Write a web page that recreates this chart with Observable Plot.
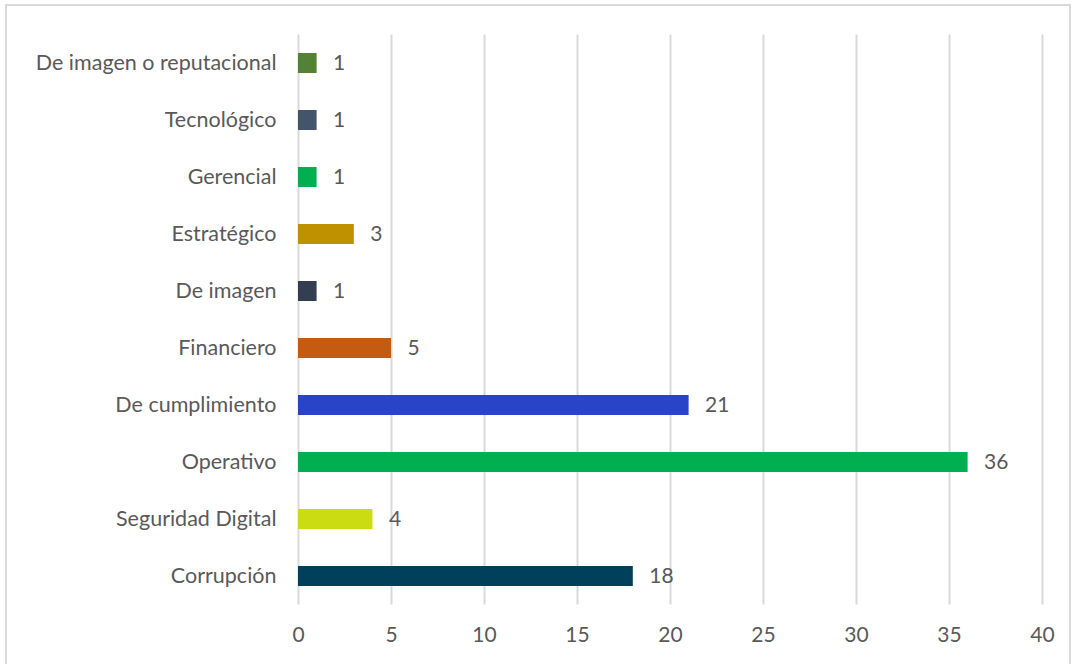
<!DOCTYPE html>
<html>
<head>
<meta charset="utf-8">
<script src="https://cdn.jsdelivr.net/npm/d3@7"></script>
<script src="https://cdn.jsdelivr.net/npm/@observablehq/plot@0.6"></script>
<style>
  html, body { margin: 0; padding: 0; background: #fff; }
  #wrap { position: relative; width: 1075px; height: 664px; overflow: hidden; }
  #frame { position: absolute; left: 5px; top: 4px; width: 1066px; height: 700px; border: 2px solid #D9D9D9; box-sizing: border-box; pointer-events: none; }
  svg { font-family: Lato, "Open Sans", sans-serif; }
</style>
</head>
<body>
<div id="wrap"><div id="frame"></div></div>
<script>
const categories = ["De imagen o reputacional","Tecnológico","Gerencial","Estratégico","De imagen","Financiero","De cumplimiento","Operativo","Seguridad Digital","Corrupción"];
const values = [1, 1, 1, 3, 1, 5, 21, 36, 4, 18];
const colors = ["#548235","#44546A","#00B050","#BF9000","#333F50","#C55A11","#2A44C8","#00B050","#CCDC12","#00405A"];
const xTicks = [0, 5, 10, 15, 20, 25, 30, 35, 40];

const data = categories.map((c, i) => ({category: c, value: values[i], color: colors[i]}));

const chart = Plot.plot({
  width: 1075,
  height: 664,
  marginLeft: 298,
  marginRight: 33,
  marginTop: 34.5,
  marginBottom: 59.5,
  style: {fontFamily: "Lato, 'Open Sans', sans-serif", fontSize: "22px", color: "#595959", background: "transparent"},
  x: {domain: [0, 40], ticks: xTicks, label: null},
  y: {domain: categories, paddingInner: 0.65, paddingOuter: 0.325, label: null},
  marks: [
    Plot.gridX(xTicks, {stroke: "#D9D9D9", strokeWidth: 2, strokeOpacity: 1}),
    Plot.barX(data, {x: "value", y: "category", fill: "color"}),
    Plot.text(data, {x: "value", y: "category", text: d => String(d.value), textAnchor: "start", dx: 16, fill: "#595959", fontSize: 21}),
    Plot.axisY({tickSize: 0, tickPadding: 22, fontSize: 21.5, fill: "#595959"}),
    Plot.axisX(xTicks, {tickSize: 0, tickPadding: 22, fontSize: 21, fill: "#595959"})
  ]
});
chart.style.position = "absolute";
chart.style.left = "0";
chart.style.top = "0";
document.getElementById("wrap").appendChild(chart);
</script>
</body>
</html>
